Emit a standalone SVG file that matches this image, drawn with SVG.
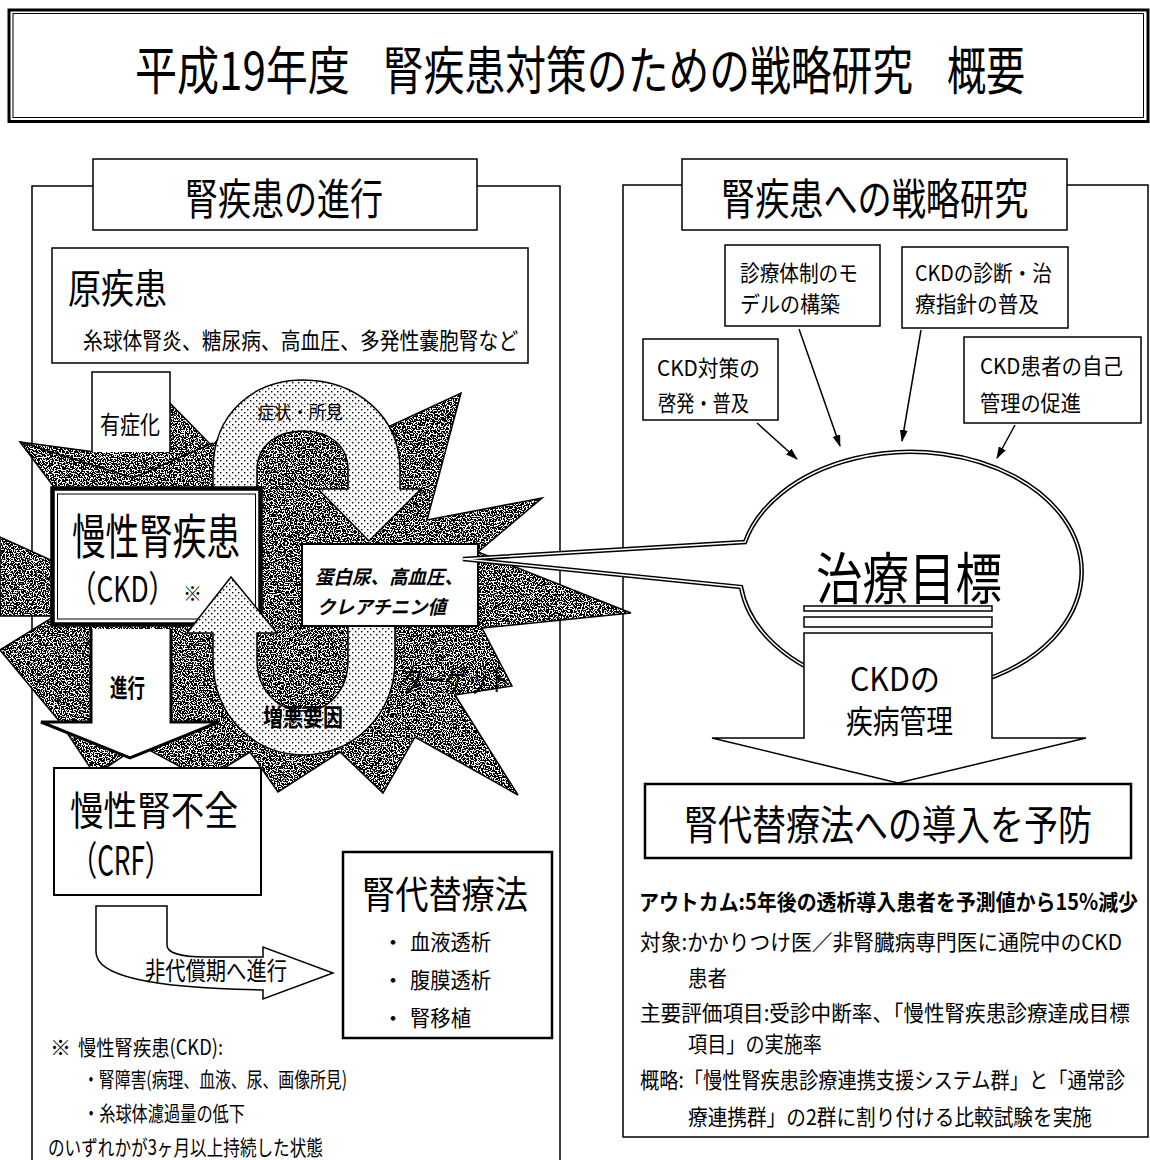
<svg xmlns="http://www.w3.org/2000/svg" width="1150" height="1160" viewBox="0 0 1150 1160">
<style>
.t{font-family:"Noto Sans CJK JP","Noto Sans CJK SC",sans-serif;fill:#000}
.b{font-weight:bold}
.bx{fill:#fff;stroke:#000;stroke-width:1.5}
.ln{fill:none;stroke:#000;stroke-width:1.5}
</style>
<defs>
<pattern id="dots" width="6" height="6" patternUnits="userSpaceOnUse">
<rect width="6" height="6" fill="#fff"/>
<rect x="1" y="1" width="1.4" height="1.4" fill="#000"/>
<rect x="4" y="4" width="1.4" height="1.4" fill="#000"/>
</pattern>
<filter id="spk" x="0" y="0" width="1" height="1">
<feTurbulence type="fractalNoise" baseFrequency="0.75" numOctaves="1" seed="7" result="n"/>
<feColorMatrix in="n" type="matrix" values="0 0 0 0 0  0 0 0 0 0  0 0 0 0 0  -30 0 0 0 16.2" result="d"/>
<feComposite in="d" in2="SourceAlpha" operator="in"/>
</filter>
<marker id="ah" viewBox="0 0 12 8" refX="11" refY="4" markerWidth="12" markerHeight="8" markerUnits="userSpaceOnUse" orient="auto">
<path d="M0,0 L12,4 L0,8 Z" fill="#000"/>
</marker>
</defs>
<rect width="1150" height="1160" fill="#fff"/>

<g id="title">
<rect x="9" y="10" width="1139" height="111.5" fill="#fff" stroke="#000" stroke-width="3"/>
<rect x="13" y="13.5" width="1130.5" height="104" fill="none" stroke="#000" stroke-width="1"/>
<text class="t" x="135" y="90" font-size="52" transform="matrix(0.79 0 0 1 28.35 0)" textLength="272" lengthAdjust="spacingAndGlyphs">平成19年度</text>
<text class="t" x="383" y="90" font-size="52" transform="matrix(0.79 0 0 1 80.43 0)" textLength="671" lengthAdjust="spacingAndGlyphs">腎疾患対策のための戦略研究</text>
<text class="t" x="947" y="90" font-size="52" transform="matrix(0.79 0 0 1 198.87 0)" textLength="99" lengthAdjust="spacingAndGlyphs">概要</text>
</g>

<g id="left-panel">
<rect x="32" y="186" width="528" height="1000" fill="none" stroke="#000" stroke-width="1.5"/>
</g>
<g id="right-panel">
<rect x="623" y="185" width="525" height="952" fill="none" stroke="#000" stroke-width="1.5"/>
</g>

<g id="header-left">
<rect class="bx" x="93" y="159" width="384" height="71"/>
<text class="t" x="185" y="215" font-size="43" transform="matrix(0.78 0 0 1 40.7 0)" textLength="254" lengthAdjust="spacingAndGlyphs">腎疾患の進行</text>
</g>
<g id="header-right">
<rect class="bx" x="682" y="159" width="385" height="71"/>
<text class="t" x="721" y="215" font-size="43" transform="matrix(0.78 0 0 1 158.62 0)" textLength="394" lengthAdjust="spacingAndGlyphs">腎疾患への戦略研究</text>
</g>

<g id="primary-disease">
<rect class="bx" x="52" y="248" width="476" height="115"/>
<text class="t" x="68" y="303" font-size="40" transform="matrix(0.825 0 0 1 11.9 0)" textLength="120" lengthAdjust="spacingAndGlyphs">原疾患</text>
<text class="t" x="83" y="349" font-size="23" transform="matrix(0.86 0 0 1 11.62 0)" textLength="506" lengthAdjust="spacingAndGlyphs">糸球体腎炎、糖尿病、高血圧、多発性嚢胞腎など</text>
</g>

<g id="starburst">
<polygon points="20,442 95,452 165,398 212,446 255,400 360,440 461,393 427,520 542,498 478,552 631,613 482,628 512,686 455,695 518,795 415,737 383,793 340,752 278,792 250,752 205,780 140,745 95,775 60,722 0,650 55,616 0,616 0,537 55,562 60,495" fill="#fff"/>
<polygon points="20,442 95,452 165,398 212,446 255,400 360,440 461,393 427,520 542,498 478,552 631,613 482,628 512,686 455,695 518,795 415,737 383,793 340,752 278,792 250,752 205,780 140,745 95,775 60,722 0,650 55,616 0,616 0,537 55,562 60,495" fill="#000" filter="url(#spk)"/>
<polygon points="20,442 95,452 165,398 212,446 255,400 360,440 461,393 427,520 542,498 478,552 631,613 482,628 512,686 455,695 518,795 415,737 383,793 340,752 278,792 250,752 205,780 140,745 95,775 60,722 0,650 55,616 0,616 0,537 55,562 60,495" fill="none" stroke="#000" stroke-width="1.5"/>
</g>

<g id="arrow-symptomatic">
<path d="M92,452 V372 H170 V452" fill="#fff" stroke="#000" stroke-width="1.5"/>
<polyline points="20,442 133,478 213,443" class="ln"/>
<text class="t" x="100" y="434" font-size="25" transform="matrix(0.8 0 0 1 20 0)" textLength="75" lengthAdjust="spacingAndGlyphs">有症化</text>
</g>

<g id="cycle-upper">
<path d="M213,535 L213,470 C213,412 255,380 303,380 C355,380 400,415 400,470 L400,489 L421,489 L369,541 L318,489 L348,489 L348,470 C348,446 330,431 303,431 C276,431 257,446 257,470 L257,535 Z" fill="url(#dots)" stroke="#000" stroke-width="1.5"/>
<text class="t" x="257" y="419" font-size="18" textLength="86" lengthAdjust="spacingAndGlyphs">症状・所見</text>
</g>

<g id="ckd">
<rect x="52.5" y="488.5" width="208" height="136" fill="#fff" stroke="#000" stroke-width="4.5"/>
<rect x="57.5" y="494" width="198" height="125" fill="none" stroke="#000" stroke-width="1"/>
<text class="t" x="72" y="554" font-size="48" transform="matrix(0.7 0 0 1 21.6 0)" textLength="240" lengthAdjust="spacingAndGlyphs">慢性腎疾患</text>
<text class="t" x="70" y="602" font-size="36" transform="matrix(0.74 0 0 1 18.2 0)" textLength="142" lengthAdjust="spacingAndGlyphs">（CKD）</text>
<text class="t" x="183" y="601" font-size="19">※</text>
</g>

<g id="cycle-lower">
<path d="M395,590 L395,660 C395,716 352,755 304,755 C254,755 213,716 213,660 L213,633 L187,633 L231,577 L277,633 L257,633 L257,660 C257,690 278,711 304,711 C329,711 348,690 348,660 L348,590 Z" fill="url(#dots)" stroke="#000" stroke-width="1.5"/>
<text class="t b" x="263" y="726" font-size="24" transform="matrix(0.83 0 0 1 44.71 0)" textLength="96.4" lengthAdjust="spacingAndGlyphs">増悪要因</text>
</g>

<g id="arrow-progress">
<path d="M91,629 V722 H41 L130,758 L219,722 H171 V629" fill="#fff" stroke="#000" stroke-width="3"/>
<text class="t b" x="110" y="697" font-size="25" transform="matrix(0.7 0 0 1 33 0)" textLength="50" lengthAdjust="spacingAndGlyphs">進行</text>
</g>

<g id="target-box">
<rect x="302" y="544" width="176" height="82" fill="#fff" stroke="#000" stroke-width="2"/>
<text class="t b" x="315" y="584" font-size="19" font-style="italic" textLength="148" lengthAdjust="spacingAndGlyphs">蛋白尿、高血圧、</text>
<text class="t b" x="317" y="614" font-size="19" font-style="italic" textLength="129" lengthAdjust="spacingAndGlyphs">クレアチニン値</text>
</g>

<g id="target-label">
<text class="t" x="402" y="691" font-size="30" transform="matrix(0.72 0 0 1 112.56 0)" textLength="150" lengthAdjust="spacingAndGlyphs">ターゲット</text>
</g>

<g id="crf">
<rect x="54" y="768" width="207" height="127" fill="#fff" stroke="#000" stroke-width="2"/>
<text class="t" x="70" y="825" font-size="40" transform="matrix(0.84 0 0 1 11.2 0)" textLength="200" lengthAdjust="spacingAndGlyphs">慢性腎不全</text>
<text class="t" x="71" y="875" font-size="40" transform="matrix(0.63 0 0 1 26.27 0)" textLength="158.7" lengthAdjust="spacingAndGlyphs">（CRF）</text>
</g>

<g id="arrow-decompensation">
<path d="M96,906 H167 V945 C167,953 182,957 205,957 L263,957 L263,947 L333,973 L263,999 L263,990 C150,988 96,976 96,952 Z" fill="#fff" stroke="#000" stroke-width="1.5"/>
<text class="t" x="145" y="980" font-size="25" transform="matrix(0.81 0 0 1 27.55 0)" textLength="175.3" lengthAdjust="spacingAndGlyphs">非代償期へ進行</text>
</g>

<g id="rrt">
<rect x="343" y="852" width="209" height="186" fill="#fff" stroke="#000" stroke-width="2.5"/>
<text class="t" x="362" y="908" font-size="38" transform="matrix(0.874 0 0 1 45.6 0)" textLength="190" lengthAdjust="spacingAndGlyphs">腎代替療法</text>
<text class="t" x="382" y="950" font-size="22">・</text>
<text class="t" x="410" y="950" font-size="22" textLength="81" lengthAdjust="spacingAndGlyphs">血液透析</text>
<text class="t" x="382" y="988" font-size="22">・</text>
<text class="t" x="410" y="988" font-size="22" textLength="81" lengthAdjust="spacingAndGlyphs">腹膜透析</text>
<text class="t" x="382" y="1026" font-size="22">・</text>
<text class="t" x="410" y="1026" font-size="22" textLength="61" lengthAdjust="spacingAndGlyphs">腎移植</text>
</g>

<g id="footnote">
<text class="t" x="50" y="1055" font-size="21">※</text>
<text class="t" x="78" y="1055" font-size="21" transform="matrix(0.87 0 0 1 10.14 0)" textLength="166.7" lengthAdjust="spacingAndGlyphs">慢性腎疾患(CKD):</text>
<text class="t" x="83" y="1087" font-size="21" transform="matrix(0.8 0 0 1 16.6 0)" textLength="330" lengthAdjust="spacingAndGlyphs">・腎障害(病理、血液、尿、画像所見)</text>
<text class="t" x="83" y="1121" font-size="21" transform="matrix(0.77 0 0 1 19.09 0)" textLength="210.4" lengthAdjust="spacingAndGlyphs">・糸球体濾過量の低下</text>
<text class="t" x="48" y="1155" font-size="21" transform="matrix(0.79 0 0 1 10.08 0)" textLength="348" lengthAdjust="spacingAndGlyphs">のいずれかが3ヶ月以上持続した状態</text>
</g>

<g id="box-awareness">
<rect class="bx" x="643" y="339" width="135" height="81"/>
<text class="t" x="657" y="376" font-size="22" textLength="103" lengthAdjust="spacingAndGlyphs">CKD対策の</text>
<text class="t" x="658" y="411" font-size="22" transform="matrix(0.83 0 0 1 111.86 0)" textLength="109.6" lengthAdjust="spacingAndGlyphs">啓発・普及</text>
</g>
<g id="box-model">
<rect class="bx" x="725" y="245" width="155" height="81"/>
<text class="t" x="740" y="281" font-size="22" transform="matrix(0.9 0 0 1 74 0)" textLength="131" lengthAdjust="spacingAndGlyphs">診療体制のモ</text>
<text class="t" x="740" y="312" font-size="22" textLength="100" lengthAdjust="spacingAndGlyphs">デルの構築</text>
</g>
<g id="box-guideline">
<rect class="bx" x="902" y="247" width="166" height="81"/>
<text class="t" x="915" y="281" font-size="22" transform="matrix(0.9 0 0 1 91.5 0)" textLength="152" lengthAdjust="spacingAndGlyphs">CKDの診断・治</text>
<text class="t" x="915" y="312" font-size="22" textLength="124" lengthAdjust="spacingAndGlyphs">療指針の普及</text>
</g>
<g id="box-selfmgmt">
<rect class="bx" x="964" y="337" width="177" height="86"/>
<text class="t" x="980" y="374" font-size="22" textLength="143" lengthAdjust="spacingAndGlyphs">CKD患者の自己</text>
<text class="t" x="980" y="411" font-size="22" textLength="101" lengthAdjust="spacingAndGlyphs">管理の促進</text>
</g>

<g id="connectors">
<line x1="757" y1="423" x2="797" y2="459" class="ln" marker-end="url(#ah)"/>
<line x1="799" y1="329" x2="840" y2="446" class="ln" marker-end="url(#ah)"/>
<line x1="921" y1="330" x2="902" y2="441" class="ln" marker-end="url(#ah)"/>
<line x1="1015" y1="425" x2="997" y2="458" class="ln" marker-end="url(#ah)"/>
</g>

<g id="goal-callout">
<path d="M745,542 A171,120 0 1,1 741,587 L463,559 Z" fill="#fff" stroke="#000" stroke-width="4.5" stroke-linejoin="miter"/>
<path d="M745,542 A171,120 0 1,1 741,587 L463,559 Z" fill="none" stroke="#fff" stroke-width="1.4"/>
<text class="t" x="816" y="599" font-size="56" transform="matrix(0.83 0 0 1 138.72 0)" textLength="224" lengthAdjust="spacingAndGlyphs">治療目標</text>
</g>

<g id="arrow-management">
<rect class="bx" x="804" y="606" width="188" height="5"/>
<rect class="bx" x="804" y="617" width="188" height="10"/>
<path d="M804,633 H992 V738 H1086 L898,783 L712,738 H804 Z" class="bx"/>
<text class="t" x="850" y="691" font-size="32" textLength="90" lengthAdjust="spacingAndGlyphs">CKDの</text>
<text class="t" x="846" y="733" font-size="32" transform="matrix(0.84 0 0 1 135.36 0)" textLength="127.4" lengthAdjust="spacingAndGlyphs">疾病管理</text>
</g>

<g id="prevent">
<rect x="645" y="784" width="486" height="74" fill="#fff" stroke="#000" stroke-width="2.5"/>
<text class="t" x="684" y="840" font-size="41" transform="matrix(0.83 0 0 1 116.28 0)" textLength="491.6" lengthAdjust="spacingAndGlyphs">腎代替療法への導入を予防</text>
</g>

<g id="study-details">
<text class="t b" x="639" y="910" font-size="22" transform="matrix(0.91 0 0 1 57.51 0)" textLength="548.4" lengthAdjust="spacingAndGlyphs">アウトカム:5年後の透析導入患者を予測値から15%減少</text>
<text class="t" x="640" y="950" font-size="22" transform="matrix(0.94 0 0 1 38.4 0)" textLength="512.8" lengthAdjust="spacingAndGlyphs">対象:かかりつけ医／非腎臓病専門医に通院中のCKD</text>
<text class="t" x="688" y="986" font-size="22" textLength="39" lengthAdjust="spacingAndGlyphs">患者</text>
<text class="t" x="640" y="1021" font-size="22" transform="matrix(0.92 0 0 1 51.2 0)" textLength="532.6" lengthAdjust="spacingAndGlyphs">主要評価項目:受診中断率、「慢性腎疾患診療達成目標</text>
<text class="t" x="688" y="1052" font-size="22" transform="matrix(0.87 0 0 1 89.44 0)" textLength="154" lengthAdjust="spacingAndGlyphs">項目」の実施率</text>
<text class="t" x="640" y="1088" font-size="22" transform="matrix(0.87 0 0 1 83.2 0)" textLength="557.5" lengthAdjust="spacingAndGlyphs">概略:「慢性腎疾患診療連携支援システム群」と「通常診</text>
<text class="t" x="688" y="1125" font-size="22" transform="matrix(0.89 0 0 1 75.68 0)" textLength="453.9" lengthAdjust="spacingAndGlyphs">療連携群」の2群に割り付ける比較試験を実施</text>
</g>
</svg>
